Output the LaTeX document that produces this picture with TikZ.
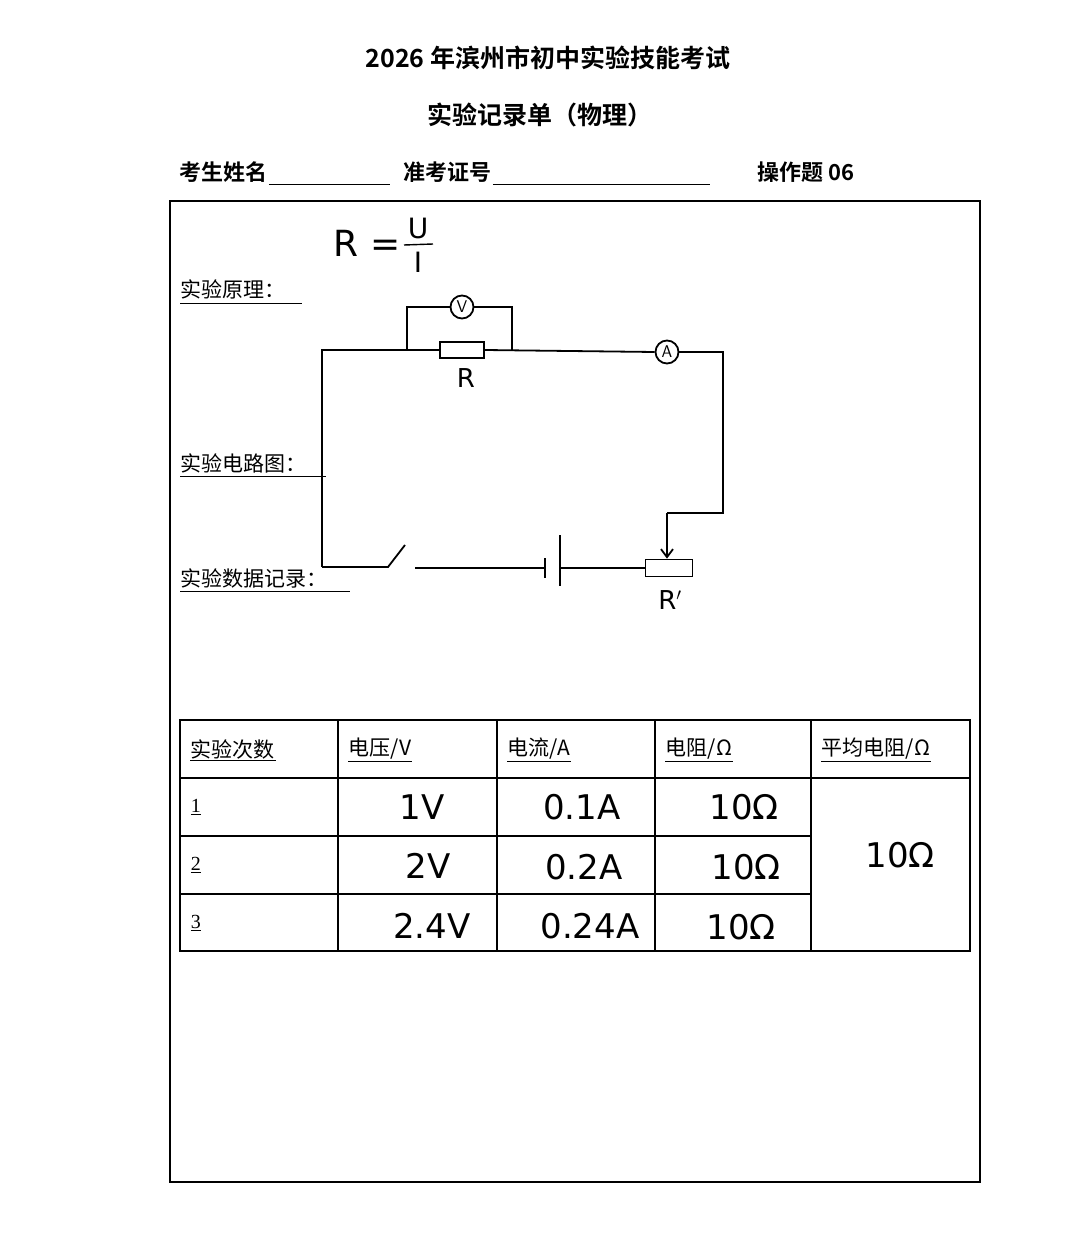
\documentclass[tikz,border=0pt]{standalone}
\usetikzlibrary{arrows.meta}
\usepackage{fontspec}
\setmainfont{Liberation Serif}
\newfontfamily\cjk{Noto Sans CJK SC}
\newfontfamily\cjkb{Noto Sans CJK SC Bold}
\newfontfamily\hand{DejaVu Sans}
\begin{document}
\begin{tikzpicture}[x=1pt,y=-1pt,line width=1.8pt,
  hw/.style={font=\fontsize{34}{36}\selectfont\hand, inner sep=0},
  hd/.style={font=\fontsize{21}{24}\selectfont\cjk, anchor=west, inner sep=0},
  lab/.style={font=\fontsize{21}{24}\selectfont\cjk, anchor=base west, inner sep=0},
  meter/.style={circle,draw,minimum size=23pt,inner sep=0,font=\fontsize{17}{17}\selectfont\sffamily}]
\useasboundingbox (0,0) rectangle (1080,1238);
\fill[white] (0,0) rectangle (1080,1238);
% titles
\node[font=\fontsize{25}{28}\selectfont\cjkb] (t1) at (548,58) {2026 年滨州市初中实验技能考试};
\node[font=\fontsize{25}{28}\selectfont\cjkb] (t2) at (540,115) {实验记录单（物理）};
\node[font=\fontsize{22}{26}\selectfont\cjkb,anchor=west,inner sep=0] (n1) at (179,172) {考生姓名};
\draw[line width=1pt] (n1.east |- 0,185) -- (390,185);
\node[font=\fontsize{22}{26}\selectfont\cjkb,anchor=west,inner sep=0] (n2) at (403,172) {准考证号};
\draw[line width=1pt] (n2.east |- 0,185) -- (710,185);
\node[font=\fontsize{22}{26}\selectfont\cjkb,anchor=west,inner sep=0] (n3) at (757,172) {操作题 06};
% frame
\draw[line width=1.2pt] (170,201) rectangle (980,1182);
% formula
\node[hw,font=\fontsize{36}{36}\selectfont\hand] (f) at (367,243) {R =};
\node[hw,font=\fontsize{28}{28}\selectfont\hand] (fu) at (418,228) {U};
\node[hw,font=\fontsize{28}{28}\selectfont\hand] (fi) at (418,262) {I};
\draw[line width=1.4pt] (404,245) -- (433,244);
% labels
\node[lab] (l1) at (180,298) {实验原理：};
\draw[line width=1pt] (180,303) -- (302,303);
\node[lab] (l2) at (180,471) {实验电路图：};
\draw[line width=1pt] (180,476) -- (326,476);
\node[lab] (l3) at (180,586) {实验数据记录：};
\draw[line width=1pt] (180,591) -- (350,591);
% circuit
\node[draw,minimum width=44pt,minimum height=16pt,inner sep=0] (R) at (462,350) {};
\node[font=\fontsize{26}{26}\selectfont\hand] (Rl) at (466,378) {R};
\node[meter] (V) at (462,307) {V};
\node[meter] (A) at (667,352) {A};
\node[draw,minimum width=47pt,minimum height=17pt,inner sep=0] (Rp) at (669,568) {};
\node[font=\fontsize{26}{26}\selectfont\hand] (Rpl) at (670,600) {R$'$};
\coordinate (tl) at (322,350);
\coordinate (bl) at (322,567);
\coordinate (vl) at (407,350);
\coordinate (vr) at (512,351);
\coordinate (tr) at (723,352);
\draw (bl) -- (tl) -- (R.west);
\draw (vl) -- (407,307) -- (V.west);
\draw (V.east) -- (512,307) -- (vr);
\draw (R.east) -- (A.west);
\draw (A.east) -- (tr) -- (723,513) -- (667,513) coordinate (ar);
\draw[-{Straight Barb[length=8pt,width=12pt]}] (ar) -- (Rp.north -| ar);
% switch & battery
\coordinate (sw) at (388,567);
\draw (bl) -- (sw) -- (405,545);
\coordinate (b1) at (545,568);
\coordinate (b2) at (560,568);
\draw (415,568) -- (b1);
\draw (545,558) -- (545,578);
\draw (560,535) -- (560,586);
\draw (b2) -- (Rp.west);
% table
\draw[line width=1.3pt] (180,720) rectangle (970,951);
\foreach \x in {338,497,655,811} \draw[line width=1.3pt] (\x,720) -- (\x,951);
\draw[line width=1.3pt] (180,778) -- (970,778);
\foreach \y in {836,894} \draw[line width=1.3pt] (180,\y) -- (811,\y);
\node[hd] (h1) at (190,749) {实验次数};
\node[hd] (h2) at (348,749) {电压/V};
\node[hd] (h3) at (507,749) {电流/A};
\node[hd] (h4) at (665,749) {电阻/Ω};
\node[hd] (h5) at (821,749) {平均电阻/Ω};
\foreach \n in {h1,h2,h3,h4,h5} \draw[line width=0.9pt] ([yshift=-1pt]\n.south west) -- ([yshift=-1pt]\n.south east);
\foreach \y/\t in {807/1,865/2,923/3} {\node[hd,font=\fontsize{20}{20}\selectfont\rmfamily] at (190,\y) {\underline{\t}};}
\node[hw] (c11) at (422,807) {1V};
\node[hw] (c21) at (428,866) {2V};
\node[hw] (c31) at (432,926) {2.4V};
\node[hw] (c12) at (582,807) {0.1A};
\node[hw] (c22) at (584,867) {0.2A};
\node[hw] (c32) at (590,926) {0.24A};
\node[hw] (c13) at (744,807) {10Ω};
\node[hw] (c23) at (746,867) {10Ω};
\node[hw] (c33) at (741,927) {10Ω};
\node[hw] (avg) at (900,855) {10Ω};
\end{tikzpicture}
\end{document}
